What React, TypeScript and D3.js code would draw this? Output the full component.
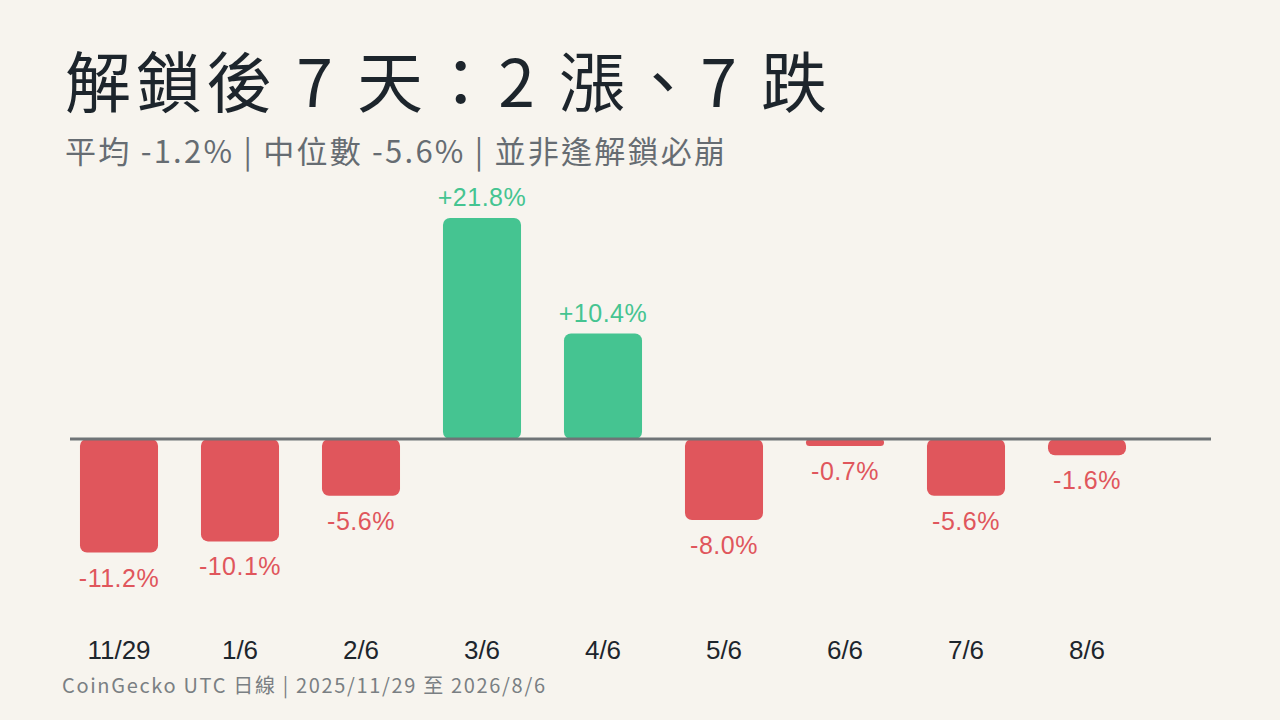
import React, { useEffect, useRef } from "react";
import * as d3 from "d3";

const dates = ["11/29", "1/6", "2/6", "3/6", "4/6", "5/6", "6/6", "7/6", "8/6"];
const returns = [-11.2, -10.1, -5.6, 21.8, 10.4, -8.0, -0.7, -5.6, -1.6];

const title = "解鎖後 7 天：2 漲、7 跌";
const subtitle = "平均 -1.2% | 中位數 -5.6% | 並非逢解鎖必崩";
const footer = "CoinGecko UTC 日線 | 2025/11/29 至 2026/8/6";

const W = 1280;
const H = 720;
const UP = "#45c491";
const DOWN = "#e0565c";
const FONT = "'Noto Sans CJK TC', 'Noto Sans', sans-serif";
const NUM_FONT = "'Liberation Sans', Arial, sans-serif";

const App: React.FC = () => {
  const svgRef = useRef<SVGSVGElement | null>(null);

  useEffect(() => {
    document.body.style.margin = "0";
    if (!svgRef.current) return;
    const svg = d3.select(svgRef.current);
    svg.selectAll("*").remove();

    svg.append("rect").attr("width", W).attr("height", H).attr("fill", "#f7f4ee");

    const x = d3.scaleBand<string>()
      .domain(dates)
      .range([58.5, 58.5 + 9 * 121])
      .paddingInner(0.355)
      .paddingOuter(0.1775);

    // 21.8% spans ~221px
    const y = d3.scaleLinear().domain([0, 21.8]).range([439, 218]);

    svg.append("text")
      .attr("x", 65)
      .attr("y", 107)
      .attr("font-family", FONT)
      .attr("font-size", 66)
      .attr("font-weight", 400)
      .attr("fill", "#1d252c")
      .attr("textLength", 762)
      .attr("lengthAdjust", "spacing")
      .text(title);

    svg.append("text")
      .attr("x", 65)
      .attr("y", 163)
      .attr("font-family", FONT)
      .attr("font-size", 31)
      .attr("fill", "#666c72")
      .attr("textLength", 660)
      .attr("lengthAdjust", "spacing")
      .text(subtitle);

    const bars = svg.append("g");
    dates.forEach((d, i) => {
      const v = returns[i];
      const top = v >= 0 ? y(v) : y(0);
      const h = Math.abs(y(v) - y(0));
      const color = v >= 0 ? UP : DOWN;
      bars.append("rect")
        .attr("x", x(d)!)
        .attr("y", top)
        .attr("width", x.bandwidth())
        .attr("height", h)
        .attr("rx", Math.min(7, h / 2))
        .attr("fill", color);

      const label = (v > 0 ? "+" : "") + v.toFixed(1) + "%";
      bars.append("text")
        .attr("x", x(d)! + x.bandwidth() / 2)
        .attr("y", v >= 0 ? y(v) - 12 : y(v) + 34)
        .attr("text-anchor", "middle")
        .attr("font-family", NUM_FONT)
        .attr("font-size", 25)
        .attr("letter-spacing", 0.5)
        .attr("fill", color)
        .text(label);

      svg.append("text")
        .attr("x", x(d)! + x.bandwidth() / 2)
        .attr("y", 659)
        .attr("text-anchor", "middle")
        .attr("font-family", NUM_FONT)
        .attr("font-size", 26)
        .attr("fill", "#1d252c")
        .text(d);
    });

    // zero line
    svg.append("line")
      .attr("x1", 70)
      .attr("x2", 1211)
      .attr("y1", y(0))
      .attr("y2", y(0))
      .attr("stroke", "#6f7477")
      .attr("stroke-width", 3);

    svg.append("text")
      .attr("x", 62)
      .attr("y", 693)
      .attr("font-family", FONT)
      .attr("font-size", 20)
      .attr("fill", "#7a7f83")
      .attr("textLength", 483)
      .attr("lengthAdjust", "spacing")
      .text(footer);
  }, []);

  return (
    <div style={{ position: "absolute", left: 0, top: 0, width: W, height: H }}>
      <svg ref={svgRef} width={W} height={H} viewBox={`0 0 ${W} ${H}`} />
    </div>
  );
};

export default App;
